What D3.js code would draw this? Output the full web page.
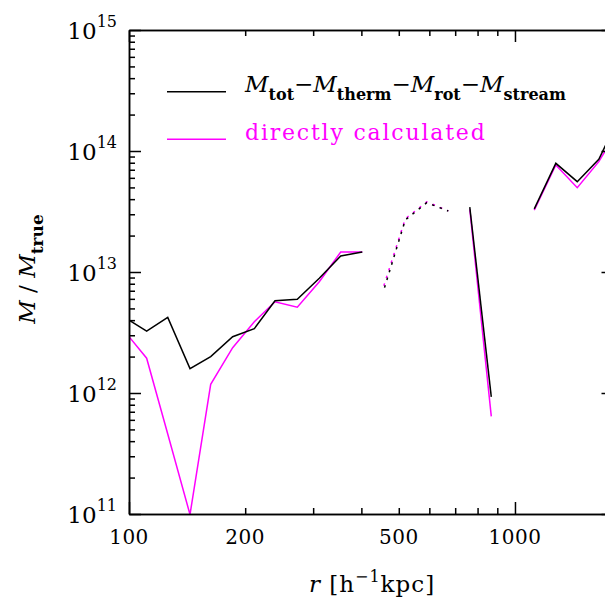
<!DOCTYPE html>
<html>
<head>
<meta charset="utf-8">
<script src="https://cdn.jsdelivr.net/npm/d3@7"></script>
<style>
  html, body { margin: 0; padding: 0; background: #fff; }
  svg { display: block; }
</style>
</head>
<body>
<div id="chart"></div>
<script>
// radius bins [h^-1 kpc]
const radii = [100, 111.1, 126.0, 143.9, 162.8, 185.6, 211.2, 238.9, 272.9, 311.2, 353.6, 402.2,
  457.3, 519.7, 590.9, 671.9, 763.7, 868.2, 987, 1122, 1276, 1450, 1649, 1875];

// negative values are drawn dotted as |M|, null = no value
const massResidual = [4.01e12, 3.25e12, 4.22e12, 1.59e12, 2.0e12, 2.92e12, 3.40e12, 5.79e12, 5.95e12, 8.87e12, 1.356e13, 1.463e13,
  -7.1e12, -2.69e13, -3.74e13, -3.19e13, 3.44e13, 9.3e11, null, 3.32e13, 7.91e13, 5.58e13, 8.54e13, 2.0e14];
const massDirect = [2.92e12, 1.94e12, 4.58e11, 0.99e11, 1.18e12, 2.37e12, 3.88e12, 5.68e12, 5.11e12, 8.31e12, 1.463e13, 1.463e13,
  -7.7e12, -2.75e13, -3.8e13, -3.2e13, 3.3e13, 6.4e11, null, 3.25e13, 7.66e13, 4.97e13, 8.16e13, 1.64e14];

const xMajor = [100, 1000];
const xMinor = [200, 300, 400, 500, 600, 700, 800, 900];
const xLabeled = [100, 200, 500, 1000];
const yMajor = [1e11, 1e12, 1e13, 1e14, 1e15];

const width = 605;
const height = 608;
const margin = { top: 30, right: -8.5, bottom: 94, left: 129 };
const serif = '"DejaVu Serif", "Liberation Serif", serif';

const svg = d3.select('#chart')
  .append('svg')
  .attr('width', width)
  .attr('height', height)
  .attr('font-family', serif);

const x = d3.scaleLog()
  .domain([100, 1800])
  .range([margin.left, width - margin.right]);

const y = d3.scaleLog()
  .domain([1e11, 1e15])
  .range([height - margin.bottom, margin.top]);

const yMinor = [];
yMajor.slice(0, -1).forEach(d => { for (let k = 2; k <= 9; k++) yMinor.push(d * k); });

svg.append('defs').append('clipPath')
  .attr('id', 'plot-clip')
  .append('rect')
  .attr('x', margin.left)
  .attr('y', margin.top)
  .attr('width', x.range()[1] - margin.left)
  .attr('height', y.range()[0] - margin.top);

// split series into runs of same sign (positive solid, negative dotted)
function segments (vals) {
  const out = [];
  let cur = null;
  vals.forEach((v, i) => {
    if (v === null) { cur = null; return; }
    const neg = v < 0;
    if (!cur || cur.neg !== neg) { cur = { neg, pts: [] }; out.push(cur); }
    cur.pts.push([radii[i], Math.abs(v)]);
  });
  return out.filter(s => s.pts.length > 1);
}

const line = d3.line()
  .x(d => x(d[0]))
  .y(d => y(d[1]));

const plot = svg.append('g').attr('clip-path', 'url(#plot-clip)');

[
  { vals: massDirect, color: '#ff00ff', offset: 0 },
  { vals: massResidual, color: '#000', offset: -2.5 }
].forEach(s => {
  plot.append('g')
    .selectAll('path')
    .data(segments(s.vals))
    .join('path')
    .attr('d', d => line(d.pts))
    .attr('fill', 'none')
    .attr('stroke', s.color)
    .attr('stroke-width', 1.5)
    .attr('stroke-dasharray', d => d.neg ? '2.5,5.5' : null)
    .attr('stroke-dashoffset', d => d.neg ? s.offset : null);
});

// axes: ticks point inward on all four sides
function styleAxis (g) {
  g.attr('font-family', serif)
    .call(g => g.selectAll('.domain').attr('stroke', '#000').attr('stroke-width', 1.5))
    .call(g => g.selectAll('.tick line').attr('stroke', '#000').attr('stroke-width', 1.5));
}

const yBottom = y.range()[0];
const xRight = x.range()[1];

svg.append('g')
  .attr('transform', `translate(0, ${yBottom})`)
  .call(d3.axisBottom(x).tickValues(xMinor).tickSize(-6).tickSizeOuter(0).tickFormat(''))
  .call(styleAxis);

svg.append('g')
  .attr('transform', `translate(0, ${yBottom})`)
  .call(d3.axisBottom(x).tickValues(xMajor).tickSize(-12).tickSizeOuter(0).tickFormat(''))
  .call(styleAxis);

svg.append('g')
  .attr('transform', `translate(0, ${margin.top})`)
  .call(d3.axisTop(x).tickValues(xMinor).tickSize(-6).tickSizeOuter(0).tickFormat(''))
  .call(styleAxis);

svg.append('g')
  .attr('transform', `translate(0, ${margin.top})`)
  .call(d3.axisTop(x).tickValues(xMajor).tickSize(-12).tickSizeOuter(0).tickFormat(''))
  .call(styleAxis);

svg.append('g')
  .attr('transform', `translate(${margin.left}, 0)`)
  .call(d3.axisLeft(y).tickValues(yMinor).tickSize(-6).tickSizeOuter(0).tickFormat(''))
  .call(styleAxis);

svg.append('g')
  .attr('transform', `translate(${margin.left}, 0)`)
  .call(d3.axisLeft(y).tickValues(yMajor).tickSize(-12).tickSizeOuter(0).tickFormat(''))
  .call(styleAxis);

svg.append('g')
  .attr('transform', `translate(${xRight}, 0)`)
  .call(d3.axisRight(y).tickValues(yMinor).tickSize(-6).tickSizeOuter(0).tickFormat(''))
  .call(styleAxis);

svg.append('g')
  .attr('transform', `translate(${xRight}, 0)`)
  .call(d3.axisRight(y).tickValues(yMajor).tickSize(-12).tickSizeOuter(0).tickFormat(''))
  .call(styleAxis);

// tick labels
svg.append('g')
  .selectAll('text')
  .data(xLabeled)
  .join('text')
  .attr('x', d => x(d))
  .attr('y', yBottom + 30)
  .attr('text-anchor', 'middle')
  .attr('font-size', 20)
  .attr('letter-spacing', 0.5)
  .text(d => d);

const yLabels = svg.append('g')
  .selectAll('text')
  .data(yMajor)
  .join('text')
  .attr('x', margin.left - 12)
  .attr('y', d => y(d) + 9)
  .attr('text-anchor', 'end')
  .attr('font-size', 23);
yLabels.append('tspan').text('10');
yLabels.append('tspan')
  .attr('dy', -12)
  .attr('font-size', 16)
  .text(d => Math.round(Math.log10(d)));

// axis titles
const xTitle = svg.append('text')
  .attr('x', 372)
  .attr('y', 592)
  .attr('text-anchor', 'middle')
  .attr('font-size', 23)
  .attr('letter-spacing', 1);
xTitle.append('tspan').attr('font-style', 'italic').text('r');
xTitle.append('tspan').text(' [h');
xTitle.append('tspan').attr('dy', -10).attr('font-size', 16).text('\u22121');
xTitle.append('tspan').attr('dy', 10).text('kpc]');

const yTitle = svg.append('text')
  .attr('transform', 'translate(35, 269) rotate(-90)')
  .attr('text-anchor', 'middle')
  .attr('font-size', 23);
yTitle.append('tspan').attr('font-style', 'italic').text('M');
yTitle.append('tspan').text('\u00a0/\u00a0');
yTitle.append('tspan').attr('font-style', 'italic').text('M');
yTitle.append('tspan').attr('dy', 8).attr('font-size', 17).attr('font-weight', 'bold').text('true');

// legend
const legend = svg.append('g');
legend.append('line')
  .attr('x1', 167).attr('x2', 226)
  .attr('y1', 91.7).attr('y2', 91.7)
  .attr('stroke', '#000').attr('stroke-width', 1.5);
legend.append('line')
  .attr('x1', 167).attr('x2', 226)
  .attr('y1', 139.3).attr('y2', 139.3)
  .attr('stroke', '#ff00ff').attr('stroke-width', 1.5);

const resLabel = legend.append('text')
  .attr('x', 245)
  .attr('y', 92)
  .attr('font-size', 23);
['tot', 'therm', 'rot', 'stream'].forEach((sub, i) => {
  if (i > 0) resLabel.append('tspan').attr('dy', -8).text('\u2212');
  resLabel.append('tspan').attr('dy', i > 0 ? 0 : null).attr('font-style', 'italic').text('M');
  resLabel.append('tspan').attr('dy', 8).attr('font-size', 16).attr('font-weight', 'bold').text(sub);
});

legend.append('text')
  .attr('x', 245)
  .attr('y', 140)
  .attr('font-size', 22)
  .attr('letter-spacing', 1.8)
  .attr('fill', '#ff00ff')
  .text('directly calculated');
</script>
</body>
</html>
